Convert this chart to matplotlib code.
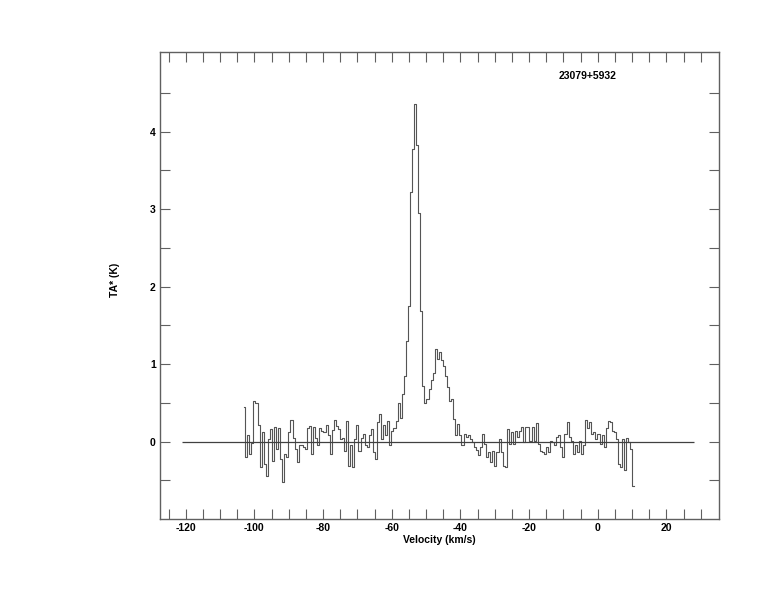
import numpy as np
import matplotlib
matplotlib.use("Agg")
import matplotlib.pyplot as plt
from matplotlib.ticker import FixedLocator

# spectrum: first channel velocity, channel width (km/s), antenna temperature (K)
v_start = -103.0
chan_width = 0.6
ta = [
    0.45, -0.2, 0.08, -0.16, -0.02, 0.52, 0.5, 0.22, -0.33, 0.12,
    -0.29, -0.44, 0.03, 0.16, -0.25, 0.19, -0.1, 0.17, -0.22, -0.52,
    -0.16, -0.2, 0.12, 0.28, 0.05, -0.1, -0.26, -0.05, -0.05, -0.07,
    -0.09, 0.17, 0.2, -0.16, 0.19, 0.04, -0.05, 0.17, 0.13, 0.12,
    0.22, 0.08, -0.16, 0.15, 0.28, 0.2, 0.16, 0.03, 0.05, -0.12,
    0.27, -0.31, -0.05, -0.33, 0.03, 0.21, -0.12, 0.04, 0.1, -0.05,
    -0.07, 0.08, 0.16, -0.14, -0.22, 0.25, 0.36, 0.03, 0.22, 0.08,
    0.27, -0.05, 0.13, 0.18, 0.27, 0.5, 0.3, 0.62, 0.85, 1.3,
    1.75, 3.22, 3.78, 4.36, 3.83, 2.95, 1.69, 0.72, 0.5, 0.55,
    0.68, 0.8, 0.88, 1.2, 1.07, 1.15, 1.05, 0.98, 0.85, 0.7,
    0.53, 0.55, 0.29, 0.08, 0.23, 0.08, -0.05, 0.1, 0.06, 0.08,
    0.03, -0.01, -0.07, -0.11, -0.18, -0.07, 0.1, -0.03, -0.2, -0.14,
    -0.27, -0.12, -0.31, -0.14, 0.03, -0.14, -0.31, -0.33, 0.16, -0.03,
    0.12, -0.03, 0.14, 0.06, 0.14, 0.19, -0.01, 0.19, 0.19, 0.01,
    0.19, 0.01, 0.24, -0.03, -0.12, -0.14, -0.16, -0.07, -0.14, 0.01,
    -0.01, -0.05, 0.06, 0.08, -0.07, -0.2, 0.1, 0.25, 0.06, 0.01,
    -0.16, -0.05, -0.14, 0.01, -0.16, -0.05, 0.28, 0.18, 0.25, 0.1,
    0.12, 0.03, 0.1, -0.03, 0.08, -0.07, 0.18, 0.27, 0.25, 0.14,
    0.12, 0.03, -0.29, -0.33, 0.03, -0.37, 0.05, 0.0, -0.1, -0.57,
]
baseline_range = [-121, 28]
source_name = "23079+5932"

x_major = [-120, -100, -80, -60, -40, -20, 0, 20]
x_minor = list(range(-125, 35, 5))
y_major = [0, 1, 2, 3, 4]
y_minor = [-0.5, 0.5, 1.5, 2.5, 3.5, 4.5]

vel = v_start + chan_width * np.arange(len(ta))

plt.rcParams["font.family"] = ["Liberation Sans", "DejaVu Sans"]
plt.rcParams["font.weight"] = "bold"
plt.rcParams["axes.unicode_minus"] = False

fig = plt.figure(figsize=(7.74, 6.12), dpi=100)
ax = fig.add_axes([160 / 774, 93 / 612, 559 / 774, 467 / 612])

ax.step(vel, ta, where="mid", color="#555555", lw=0.8)
ax.hlines(0, baseline_range[0], baseline_range[1], color="#404040", lw=0.9)

ax.set_xlim(-127.5, 35.3)
ax.set_ylim(-1.0, 5.03)

ax.xaxis.set_major_locator(FixedLocator(x_major))
ax.xaxis.set_minor_locator(FixedLocator(x_minor))
ax.yaxis.set_major_locator(FixedLocator(y_major))
ax.yaxis.set_minor_locator(FixedLocator(y_minor))
ax.tick_params(which="both", direction="in", top=True, right=True,
               length=7, width=0.8, color="#606060", labelsize=7.5, pad=3)

for s in ax.spines.values():
    s.set_color("#606060")
    s.set_linewidth(1.0)

ax.set_xlabel("Velocity (km/s)", fontsize=7.5, fontweight="bold", labelpad=1)
fig.text(115 / 774, 1 - 280 / 612, "TA* (K)", rotation=90, fontsize=7.5,
         fontweight="bold", ha="center", va="center")
ax.text(-2.9, 4.72, source_name, fontsize=7.5, fontweight="bold",
        ha="center", va="center")

fig.savefig("out.png", dpi=100)
